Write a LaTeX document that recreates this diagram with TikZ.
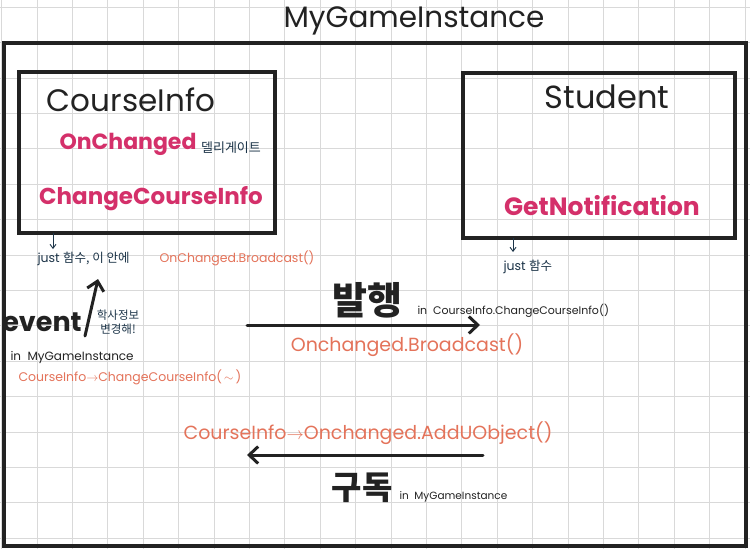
\documentclass[tikz,border=0pt]{standalone}
\usepackage{fontspec}
\setmainfont{Poppins}
\newfontfamily\kr{Noto Sans CJK KR}
\usetikzlibrary{arrows.meta}
\definecolor{gridc}{HTML}{D9D9D9}
\definecolor{inkc}{HTML}{222222}
\definecolor{magc}{HTML}{D4306A}
\definecolor{orc}{HTML}{E4735A}
\definecolor{navc}{HTML}{1C3448}
\tikzset{
  box/.style={draw=inkc,line width=3.2pt},
  big/.style={text=inkc,font=\fontsize{31}{33}\selectfont},
  mag/.style={text=magc,font=\fontsize{23}{25}\selectfont\bfseries},
  orng/.style={text=orc,font=\fontsize{12.5}{15}\selectfont},
  nav/.style={text=navc,font=\fontsize{12.5}{14}\selectfont},
  small/.style={text=inkc,font=\fontsize{11}{13}\selectfont},
  thinarrow/.style={draw=navc,line width=0.9pt,-{Straight Barb[length=4pt,width=6pt]}},
  bigarrow/.style={draw=inkc,line width=3pt,line cap=round,-{Straight Barb[length=9pt,width=17pt,line width=3pt]}},
}
\begin{document}
\begin{tikzpicture}[x=1pt,y=-1pt]
\useasboundingbox (0,0) rectangle (750,549);
\fill[white] (0,0) rectangle (750,549);
% grid
\foreach \k in {0,...,21} {\draw[gridc,line width=0.6pt] ({1.5+35.4*\k},0) -- ({1.5+35.4*\k},549);}
\foreach \k in {0,...,15} {\draw[gridc,line width=0.6pt] (0,{7+35.4*\k}) -- (750,{7+35.4*\k});}
% outer frame
\draw[box] (4,43) rectangle (746,546);
\node[big,font=\fontsize{29.5}{31}\selectfont] (title) at (414,21) {MyGameInstance};
% CourseInfo box
\draw[box] (19,72) rectangle (275,233);
\node[big] (ci) at (131,100) {CourseInfo};
\node[mag,font=\fontsize{22}{24}\selectfont\bfseries] (onch) at (128,144) {OnChanged};
\node[nav,font=\kr\fontsize{13}{15}\selectfont] (deleg) at (231,148) {델리게이트};
\node[mag] (cci) at (151,199) {ChangeCourseInfo};
\coordinate (ciarrA) at (53,233);
\coordinate (ciarrB) at (53,249);
\draw[thinarrow] (ciarrA) -- (ciarrB);
\node[nav,anchor=west] (just1) at (34,259) {just {\kr 함수, 이 안에}};
\node[orng,anchor=west] (bc1) at (156,258) {OnChanged.Broadcast()};
% event
\node[text=inkc,font=\fontsize{27}{29}\selectfont\bfseries] (event) at (42,322) {event};
\coordinate (evA) at (85,336);
\coordinate (evB) at (98,279);
\draw[bigarrow] (evA) -- (evB);
\node[nav,font=\kr\fontsize{11.5}{14}\selectfont,align=center,inner sep=0pt] (haksa) at (118,322) {학사정보\\변경해!};
\node[small,anchor=west,font=\fontsize{12}{14}\selectfont] (inmg1) at (7,357) {in\ \ MyGameInstance};
\node[orng,anchor=west] (cc1) at (15,377) {CourseInfo$\rightarrow$ChangeCourseInfo(\,$\sim$\,)};
% Student box
\draw[box] (463,73) rectangle (735,238);
\node[big,font=\fontsize{32}{34}\selectfont] (stu) at (607,97) {Student};
\node[mag,font=\fontsize{25}{27}\selectfont\bfseries] (gn) at (602,206) {GetNotification};
\coordinate (stA) at (513,238);
\coordinate (stB) at (513,252);
\draw[thinarrow] (stA) -- (stB);
\node[nav,anchor=west] (just2) at (500,267) {just {\kr 함수}};
% publish
\node[text=inkc,font=\kr\fontsize{38}{40}\selectfont\bfseries] (pub) at (367,300) {발행};
\node[small,anchor=west] (pubin) at (414,311) {in\ \ CourseInfo.ChangeCourseInfo()};
\coordinate (pubA) at (247,325);
\coordinate (pubB) at (480,325);
\draw[bigarrow] (pubA) -- (pubB);
\node[orng,font=\fontsize{19}{21}\selectfont] (bc2) at (407,345) {Onchanged.Broadcast()};
% subscribe
\node[orng,font=\fontsize{19}{21}\selectfont] (add) at (368,433) {CourseInfo$\rightarrow$Onchanged.AddUObject()};
\coordinate (subA) at (483,455);
\coordinate (subB) at (247,455);
\draw[bigarrow] (subA) -- (subB);
\node[text=inkc,font=\kr\fontsize{33}{35}\selectfont\bfseries] (sub) at (362,488) {구독};
\node[small,anchor=west,font=\fontsize{10.5}{12}\selectfont] (subin) at (396,497) {in\ \ MyGameInstance};
\end{tikzpicture}
\end{document}
